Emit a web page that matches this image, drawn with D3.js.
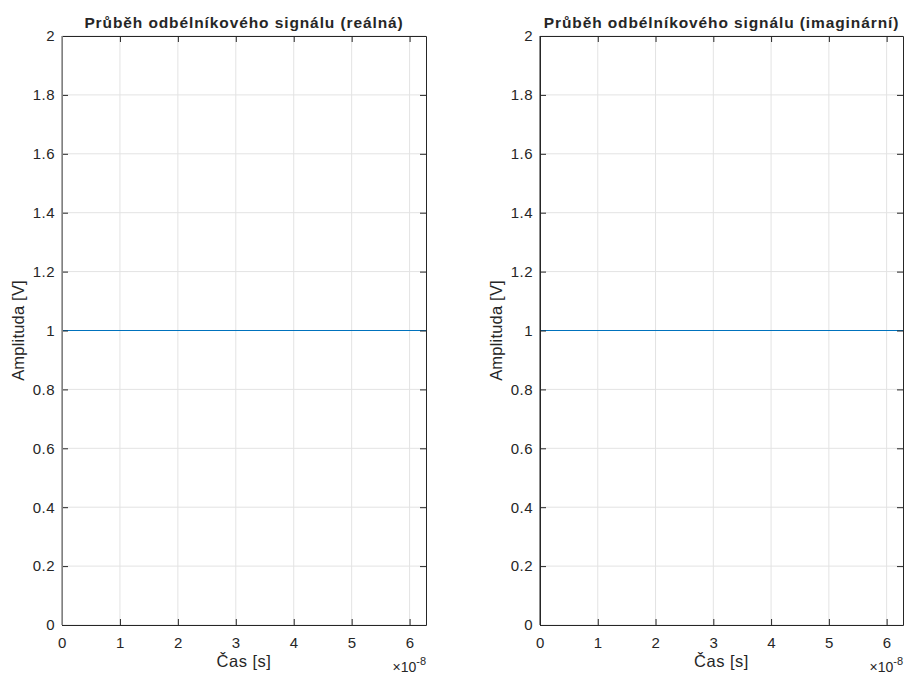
<!DOCTYPE html>
<html><head><meta charset="utf-8">
<script src="https://cdn.jsdelivr.net/npm/d3@7"></script>
<style>body{margin:0;background:#fff}svg{display:block}text{font-family:"Liberation Sans",Arial,Helvetica,sans-serif;fill:#262626}</style>
</head><body>
<svg id="c" width="904" height="675"></svg>
<script>
const titles = ["Průběh odbélníkového signálu (reálná)", "Průběh odbélníkového signálu (imaginární)"];
const timeS = [0, 1e-8, 2e-8, 3e-8, 4e-8, 5e-8, 6e-8, 6.2832e-8];
const realPart = [1, 1, 1, 1, 1, 1, 1, 1];
const imagPart = [1, 1, 1, 1, 1, 1, 1, 1];
const xTicks = [0, 1, 2, 3, 4, 5, 6];
const yTicks = [0, 0.2, 0.4, 0.6, 0.8, 1, 1.2, 1.4, 1.6, 1.8, 2];
const xMax = 6.2832e-8;
const xExp = -8;

const svg = d3.select("#c");
const panels = [
  {x0: 62, x1: 426, title: titles[0], vals: realPart, leftColor: "#9a9a9a", leftW: 1.6},
  {x0: 540, x1: 903, title: titles[1], vals: imagPart, leftColor: "#262626", leftW: 1}
];
const y0 = 625, y1 = 36;
panels.forEach(p => {
  const g = svg.append("g");
  const x = d3.scaleLinear().domain([0, xMax]).range([p.x0, p.x1]);
  const y = d3.scaleLinear().domain([0, 2]).range([y0, y1]);
  g.selectAll(".gx").data(xTicks).enter().append("line")
    .attr("x1", d => x(d * 1e-8)).attr("x2", d => x(d * 1e-8))
    .attr("y1", y0).attr("y2", y1).attr("stroke", "#e3e3e3").attr("stroke-width", 1);
  g.selectAll(".gy").data(yTicks).enter().append("line")
    .attr("y1", d => y(d)).attr("y2", d => y(d))
    .attr("x1", p.x0).attr("x2", p.x1).attr("stroke", "#e3e3e3").attr("stroke-width", 1);
  g.append("path").datum(timeS.map((t, i) => [t, p.vals[i]]))
    .attr("d", d3.line().x(d => x(d[0])).y(d => y(d[1])))
    .attr("fill", "none").attr("stroke", "#0072BD").attr("stroke-width", 1.2);
  const tl = 6;
  const fmtX = d => d3.format("d")(Math.round(d / 1e-8));
  const ax = d3.axisBottom(x).tickValues(xTicks.map(d => d * 1e-8)).tickSizeInner(-tl).tickSizeOuter(0).tickFormat(fmtX).tickPadding(12);
  const axT = d3.axisTop(x).tickValues(xTicks.map(d => d * 1e-8)).tickSizeInner(-tl).tickSizeOuter(0).tickFormat("");
  const ay = d3.axisLeft(y).tickValues(yTicks).tickSizeInner(-tl).tickSizeOuter(0).tickFormat(d => d3.format("~g")(d)).tickPadding(7);
  const ayR = d3.axisRight(y).tickValues(yTicks).tickSizeInner(-tl).tickSizeOuter(0).tickFormat("");
  [[ax, `translate(0,${y0})`], [axT, `translate(0,${y1})`], [ay, `translate(${p.x0},0)`], [ayR, `translate(${p.x1},0)`]].forEach(([a, tr]) => {
    const ag = g.append("g").attr("transform", tr).call(a);
    ag.attr("font-size", null).attr("font-family", null);
    ag.select(".domain").attr("stroke", "#262626");
    ag.selectAll(".tick line").attr("stroke", "#262626");
    ag.selectAll("text").style("font-size", "15px").style("letter-spacing", "0.5px").style("fill", "#262626");
  });
  g.append("line").attr("x1", p.x0).attr("x2", p.x0).attr("y1", y0).attr("y2", y1)
    .attr("stroke", p.leftColor).attr("stroke-width", p.leftW);
  g.append("text").attr("x", (p.x0 + p.x1) / 2).attr("y", 28).attr("text-anchor", "middle")
    .style("font-size", "15.5px").style("font-weight", "bold").style("letter-spacing", "0.9px").text(p.title);
  g.append("text").attr("x", (p.x0 + p.x1) / 2).attr("y", 667).attr("text-anchor", "middle")
    .style("font-size", "16.5px").style("letter-spacing", "0.5px").text("Čas [s]");
  const ex = g.append("text").attr("x", p.x1).attr("y", 672).attr("text-anchor", "end").style("font-size", "14px");
  ex.append("tspan").text("×10");
  ex.append("tspan").attr("dy", -7).style("font-size", "11px").text(xExp);
  g.append("text").attr("transform", `translate(${p.x0 - 38},${(y0 + y1) / 2}) rotate(-90)`)
    .attr("text-anchor", "middle").style("font-size", "16.5px").style("letter-spacing", "0.2px").text("Amplituda [V]");
});
</script>
</body></html>
